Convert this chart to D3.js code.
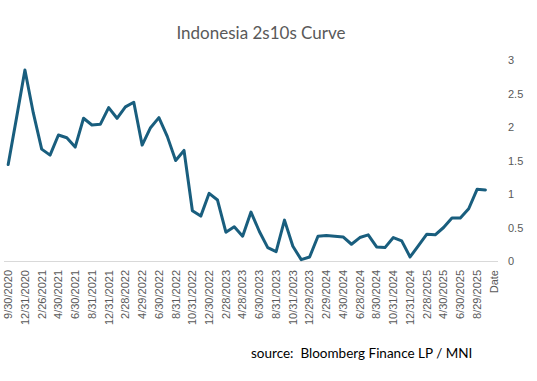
<!DOCTYPE html>
<html>
<head>
<meta charset="utf-8">
<script src="https://cdn.jsdelivr.net/npm/d3@7"></script>
<style>
  html, body { margin: 0; padding: 0; background: #fff; }
  svg { display: block; }
</style>
</head>
<body>
<svg id="chart" width="537" height="381"></svg>
<script>
const title = "Indonesia 2s10s Curve";
const sourceText = "source:  Bloomberg Finance LP / MNI";
const dates = [
  "9/30/2020","11/30/2020","12/31/2020","1/29/2021","2/26/2021","3/31/2021","4/30/2021","5/31/2021",
  "6/30/2021","7/30/2021","8/31/2021","11/30/2021","12/31/2021","1/31/2022","2/28/2022","3/31/2022",
  "4/29/2022","5/31/2022","6/30/2022","7/29/2022","8/31/2022","9/30/2022","10/31/2022","11/30/2022",
  "12/30/2022","1/31/2023","2/28/2023","3/31/2023","4/28/2023","5/31/2023","6/30/2023","7/31/2023",
  "8/31/2023","9/29/2023","10/31/2023","11/30/2023","12/29/2023","1/31/2024","2/29/2024","3/29/2024",
  "4/30/2024","5/31/2024","6/28/2024","7/31/2024","8/30/2024","9/30/2024","10/31/2024","11/29/2024",
  "12/31/2024","1/31/2025","2/28/2025","3/31/2025","4/30/2025","5/30/2025","6/30/2025","7/31/2025",
  "8/29/2025","9/30/2025"
];
const values = [
  1.44, 2.14, 2.85, 2.21, 1.67, 1.58, 1.88, 1.84,
  1.70, 2.13, 2.03, 2.04, 2.29, 2.13, 2.30, 2.37,
  1.73, 1.99, 2.14, 1.86, 1.50, 1.65, 0.75, 0.67,
  1.01, 0.91, 0.43, 0.51, 0.37, 0.73, 0.44, 0.20,
  0.14, 0.61, 0.22, 0.02, 0.06, 0.37, 0.38, 0.37,
  0.36, 0.25, 0.35, 0.39, 0.21, 0.20, 0.35, 0.30,
  0.06, 0.23, 0.40, 0.39, 0.50, 0.64, 0.64, 0.78,
  1.07, 1.06
];
const xAxisTitle = "Date";
const yTicks = [0, 0.5, 1, 1.5, 2, 2.5, 3];

const svg = d3.select("#chart");
const categories = dates.concat([xAxisTitle]);

const x = d3.scaleBand().domain(categories).range([4, 498]).padding(0);
const y = d3.scaleLinear().domain([0, 3]).range([261, 60]);
const cx = d => x(d) + x.bandwidth() / 2;

// title
svg.append("text")
  .attr("x", 261).attr("y", 39)
  .attr("text-anchor", "middle")
  .attr("font-family", "Lato, sans-serif")
  .attr("font-size", 17)
  .attr("fill", "#595959")
  .text(title);

// baseline
svg.append("line")
  .attr("x1", 4).attr("x2", 498)
  .attr("y1", y(0) + 0.5).attr("y2", y(0) + 0.5)
  .attr("stroke", "#d9d9d9").attr("stroke-width", 1);

// y axis labels on right
const yAxis = d3.axisRight(y).tickValues(yTicks).tickSize(0).tickPadding(0)
  .tickFormat(d3.format("~g"));
const yg = svg.append("g").attr("transform", "translate(508,0)").call(yAxis);
yg.select(".domain").remove();
yg.selectAll("text")
  .attr("font-family", "Liberation Sans, Arial, sans-serif")
  .attr("font-size", 11)
  .attr("fill", "#595959");

// x axis labels (every other category)
const xAxis = d3.axisBottom(x)
  .tickValues(categories.filter((d, i) => i % 2 === 0))
  .tickSize(0).tickPadding(0);
const xg = svg.append("g").attr("transform", `translate(0,${y(0)})`).call(xAxis);
xg.select(".domain").remove();
xg.selectAll("text")
  .attr("font-family", "Liberation Sans, Arial, sans-serif")
  .attr("font-size", 11)
  .attr("fill", "#595959")
  .attr("transform", "rotate(-90)")
  .attr("text-anchor", "end")
  .attr("dy", "0.35em")
  .attr("x", -9)
  .attr("y", 0);

// line
const line = d3.line().x((d, i) => cx(dates[i])).y(d => y(d));
svg.append("path")
  .datum(values)
  .attr("fill", "none")
  .attr("stroke", "#195e7e")
  .attr("stroke-width", 3)
  .attr("stroke-linejoin", "round")
  .attr("stroke-linecap", "round")
  .attr("d", line);

// source
svg.append("text")
  .attr("x", 251).attr("y", 358)
  .attr("font-family", "Lato, sans-serif")
  .attr("font-size", 13.5)
  .attr("fill", "#000")
  .style("white-space", "pre")
  .text(sourceText);
</script>
</body>
</html>
